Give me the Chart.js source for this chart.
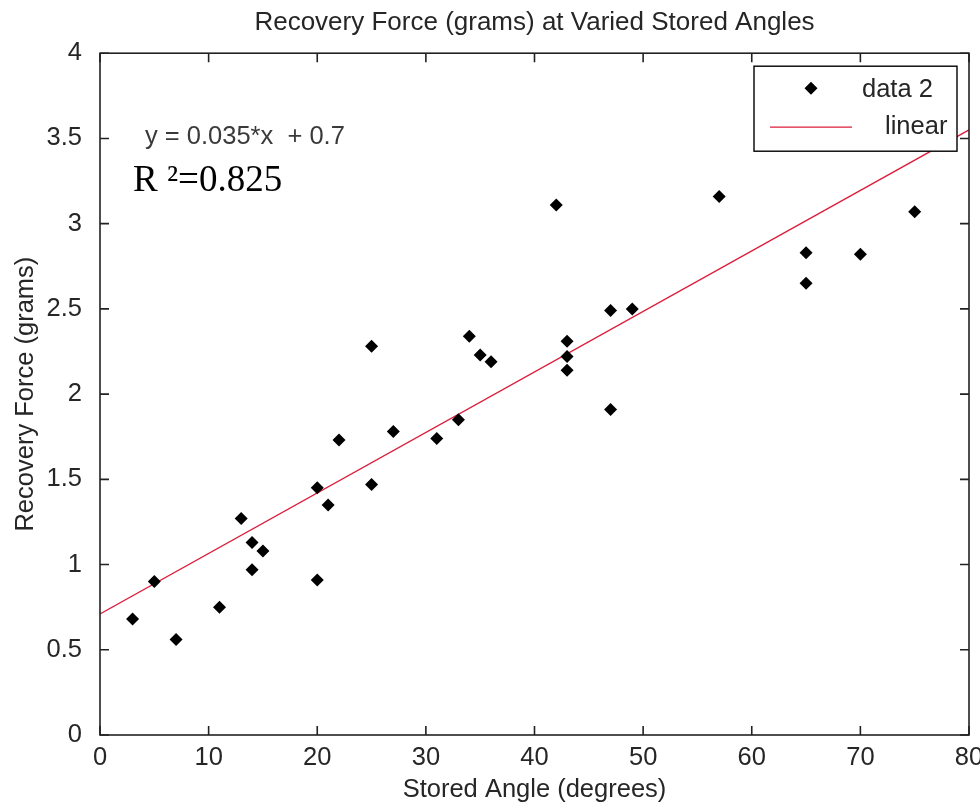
<!DOCTYPE html>
<html>
<head>
<meta charset="utf-8">
<script src="https://cdn.jsdelivr.net/npm/chart.js@4/dist/chart.umd.min.js"></script>
<style>
html,body{margin:0;padding:0;background:#fff;}
#wrap{width:980px;height:807px;}
</style>
</head>
<body>
<div id="wrap"><canvas id="c" width="980" height="807"></canvas></div>
<script>
// Stored angle (degrees) of each measurement
const angles = [3, 5, 7, 11, 13, 14, 14, 15, 20, 20, 21, 22, 25, 25, 27, 31, 33, 34, 35, 36, 42, 43, 43, 43, 47, 47, 49, 57, 65, 65, 70, 75];
// Recovery force (grams) of each measurement
const forces = [0.68, 0.90, 0.56, 0.75, 1.27, 1.13, 0.97, 1.08, 1.45, 0.91, 1.35, 1.73, 2.28, 1.47, 1.78, 1.74, 1.85, 2.34, 2.23, 2.19, 3.11, 2.31, 2.22, 2.14, 2.49, 1.91, 2.50, 3.16, 2.83, 2.65, 2.82, 3.07];
// Linear fit end points
const fitX = [0, 80];
const fitY = [0.71, 3.55];
// Axis ticks
const xTicks = [0, 10, 20, 30, 40, 50, 60, 70, 80];
const yTicks = [0, 0.5, 1, 1.5, 2, 2.5, 3, 3.5, 4];
const seriesNames = ['data 2', 'linear'];
const titleText = 'Recovery Force (grams) at Varied Stored Angles';
const xTitle = 'Stored Angle (degrees)';
const yTitle = 'Recovery Force (grams)';
const eqText = 'y = 0.035*x  + 0.7';
const r2Text = 'R \u00B2=0.825';

const FONT = "'Liberation Sans', Arial, sans-serif";
const TXT = '#262626';
const RED = '#dc1e3c';
const FS = 25.5;
const PR = 6.5;

const bgPlugin = {
  id: 'bg',
  beforeDraw(chart) {
    const c = chart.ctx;
    c.save(); c.fillStyle = '#fff'; c.fillRect(0, 0, chart.width, chart.height); c.restore();
  }
};

const framePlugin = {
  id: 'frame',
  afterDraw(chart) {
    const c = chart.ctx, a = chart.chartArea;
    const xs = chart.scales.x, ys = chart.scales.y;
    c.save();
    c.strokeStyle = '#222';
    c.lineWidth = 1.6;
    c.strokeRect(a.left, a.top, a.right - a.left, a.bottom - a.top);
    const tl = 9;
    c.beginPath();
    xTicks.forEach(v => {
      const p = xs.getPixelForValue(v);
      c.moveTo(p, a.bottom); c.lineTo(p, a.bottom - tl);
      c.moveTo(p, a.top); c.lineTo(p, a.top + tl);
    });
    yTicks.forEach(v => {
      const p = ys.getPixelForValue(v);
      c.moveTo(a.left, p); c.lineTo(a.left + tl, p);
      c.moveTo(a.right, p); c.lineTo(a.right - tl, p);
    });
    c.stroke();

    // annotation text
    c.fillStyle = '#3a3a3a';
    c.font = FS + 'px ' + FONT;
    c.textBaseline = 'middle';
    c.textAlign = 'left';
    c.fillText(eqText, a.left + 45, a.top + 84);
    c.fillStyle = '#000';
    c.font = "37px 'Liberation Serif', 'DejaVu Serif', serif";
    c.fillText(r2Text, a.left + 33, a.top + 128);

    // legend
    const bw = 203, bh = 85;
    const bx = a.right - 12 - bw, by = a.top + 13;
    c.fillStyle = '#fff';
    c.fillRect(bx, by, bw, bh);
    c.strokeStyle = '#000';
    c.lineWidth = 1.4;
    c.strokeRect(bx, by, bw, bh);
    c.fillStyle = '#000';
    const mx = bx + 57, my = by + 22, r = PR;
    c.beginPath();
    c.moveTo(mx, my - r); c.lineTo(mx + r, my); c.lineTo(mx, my + r); c.lineTo(mx - r, my); c.closePath();
    c.fill();
    c.strokeStyle = RED; c.lineWidth = 1.3;
    c.beginPath(); c.moveTo(bx + 16, by + 61); c.lineTo(bx + 98, by + 61); c.stroke();
    c.fillStyle = TXT;
    c.font = FS + 'px ' + FONT;
    c.textAlign = 'left';
    c.fillText(seriesNames[0], bx + 108, by + 24);
    c.fillText(seriesNames[1], bx + 131, by + 61);
    c.restore();
  }
};

new Chart(document.getElementById('c'), {
  type: 'scatter',
  data: {
    datasets: [
      {
        label: seriesNames[0],
        data: angles.map((x, i) => ({x: x, y: forces[i]})),
        pointStyle: 'rectRot',
        pointRadius: PR,
        pointBackgroundColor: '#000',
        pointBorderColor: '#000',
        pointBorderWidth: 0,
        showLine: false
      },
      {
        label: seriesNames[1],
        data: fitX.map((x, i) => ({x: x, y: fitY[i]})),
        showLine: true,
        borderColor: RED,
        borderWidth: 1.3,
        pointRadius: 0,
        fill: false
      }
    ]
  },
  options: {
    responsive: false,
    animation: false,
    events: [],
    layout: {padding: {left: 0, right: 11, top: 0, bottom: 0}},
    plugins: {
      legend: {display: false},
      tooltip: {enabled: false},
      title: {
        display: true,
        fullSize: false,
        text: titleText,
        color: TXT,
        font: {family: FONT, size: 26, weight: 'normal', lineHeight: 1.2},
        padding: {top: 7, bottom: 15}
      }
    },
    scales: {
      x: {
        type: 'linear',
        min: 0, max: 80,
        afterBuildTicks(s) { s.ticks = xTicks.map(v => ({value: v})); },
        afterFit(s) { s.height = 72; s.paddingLeft = 0; s.paddingRight = 0; },
        grid: {display: false, drawTicks: false},
        border: {display: false},
        ticks: {color: TXT, font: {family: FONT, size: FS}, padding: 8, maxRotation: 0, autoSkip: false, callback: v => String(v)},
        title: {display: true, text: xTitle, color: TXT, font: {family: FONT, size: FS, lineHeight: 1.2}, padding: {top: 0, bottom: 2}}
      },
      y: {
        type: 'linear',
        min: 0, max: 4,
        afterBuildTicks(s) { s.ticks = yTicks.map(v => ({value: v})); },
        afterFit(s) { s.width = 100; s.paddingTop = 0; s.paddingBottom = 0; },
        grid: {display: false, drawTicks: false},
        border: {display: false},
        ticks: {color: TXT, font: {family: FONT, size: FS}, padding: 18, autoSkip: false, callback: v => String(v)},
        title: {display: true, text: yTitle, color: TXT, font: {family: FONT, size: FS, lineHeight: 1.2}, padding: {top: 11, bottom: 0}}
      }
    }
  },
  plugins: [bgPlugin, framePlugin]
});
</script>
</body>
</html>
